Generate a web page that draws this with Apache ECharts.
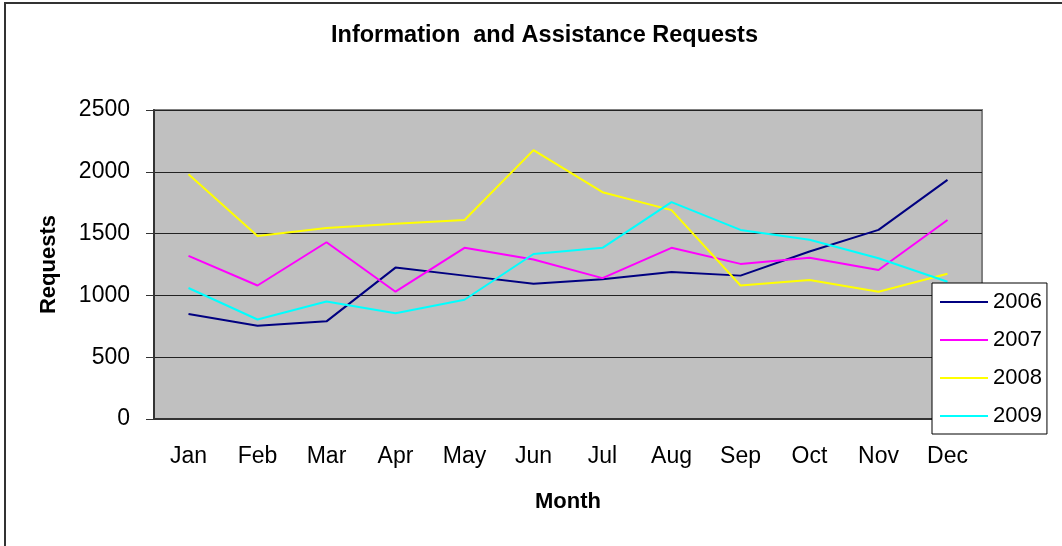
<!DOCTYPE html>
<html>
<head>
<meta charset="utf-8">
<script src="https://cdn.jsdelivr.net/npm/echarts@6/dist/echarts.min.js"></script>
<style>
  html, body, #main { margin: 0; padding: 0; width: 100%; height: 100%; overflow: hidden; background: #fff; }
</style>
</head>
<body>
<div id="main"></div>
<script>
// data
const months = ["Jan", "Feb", "Mar", "Apr", "May", "Jun", "Jul", "Aug", "Sep", "Oct", "Nov", "Dec"];
const y2006 = [850, 755, 790, 1225, 1160, 1095, 1130, 1190, 1160, 1355, 1530, 1935];
const y2007 = [1320, 1080, 1430, 1030, 1385, 1290, 1140, 1385, 1255, 1305, 1205, 1610];
const y2008 = [1980, 1480, 1545, 1580, 1610, 2175, 1835, 1690, 1080, 1125, 1030, 1175];
const y2009 = [1060, 805, 950, 855, 965, 1335, 1385, 1755, 1530, 1450, 1300, 1110];
const yTicks = [0, 500, 1000, 1500, 2000, 2500];

const font = "Liberation Sans, Arial, sans-serif";

let myChart = echarts.init(document.getElementById("main"));

function line(name, data, color) {
  return {
    name: name,
    type: "line",
    data: data,
    symbol: "none",
    lineStyle: { color: color, width: 2 },
    itemStyle: { color: color },
  };
}

myChart.setOption({
  animation: false,
  textStyle: { fontFamily: font },
  title: {
    text: "Information  and Assistance Requests",
    left: 326,
    top: 19,
    textStyle: { fontSize: 23.5, fontWeight: "bold", color: "#000", fontFamily: font },
  },
  graphic: [
    {
      type: "rect",
      shape: { x: 5, y: 3, width: 1100, height: 600 },
      style: { fill: "none", stroke: "#333", lineWidth: 2 },
      silent: true,
    },
  ],
  legend: {
    orient: "vertical",
    left: 932,
    top: 283,
    data: ["2006", "2007", "2008", "2009"],
    backgroundColor: "#fff",
    borderColor: "#000",
    borderWidth: 1,
    padding: [8, 5, 7, 7],
    itemWidth: 48,
    itemHeight: 22,
    itemGap: 16,
    itemStyle: { opacity: 0 },
    lineStyle: { width: 2 },
    textStyle: { fontSize: 22, lineHeight: 22, color: "#000", fontFamily: font },
  },
  grid: {
    left: 154,
    top: 110,
    right: 80,
    bottom: 127,
    show: true,
    backgroundColor: "#C0C0C0",
    borderColor: "#808080",
    borderWidth: 2,
  },
  xAxis: {
    type: "category",
    data: months,
    boundaryGap: true,
    name: "Month",
    nameLocation: "middle",
    nameGap: 72,
    nameTextStyle: { fontSize: 22, fontWeight: "bold", color: "#000" },
    axisLine: { lineStyle: { color: "#333", width: 2 } },
    axisTick: { length: 8, lineStyle: { color: "#333", width: 1 } },
    axisLabel: { fontSize: 23, color: "#000", margin: 26 },
  },
  yAxis: {
    type: "value",
    min: yTicks[0],
    max: yTicks[yTicks.length - 1],
    interval: 500,
    name: "Requests",
    nameLocation: "middle",
    nameGap: 94,
    nameTextStyle: { fontSize: 22, fontWeight: "bold", color: "#000" },
    axisLine: { show: true, lineStyle: { color: "#333", width: 2 } },
    axisTick: { show: true, length: 8, lineStyle: { color: "#333", width: 1 } },
    axisLabel: { fontSize: 23, color: "#000", margin: 24, formatter: (v) => String(v) },
    splitLine: { lineStyle: { color: "#222", width: 1 } },
  },
  series: [
    line("2006", y2006, "#000080"),
    line("2007", y2007, "#FF00FF"),
    line("2008", y2008, "#FFFF00"),
    line("2009", y2009, "#00FFFF"),
  ],
});

window.onresize = myChart.resize;
</script>
</body>
</html>
